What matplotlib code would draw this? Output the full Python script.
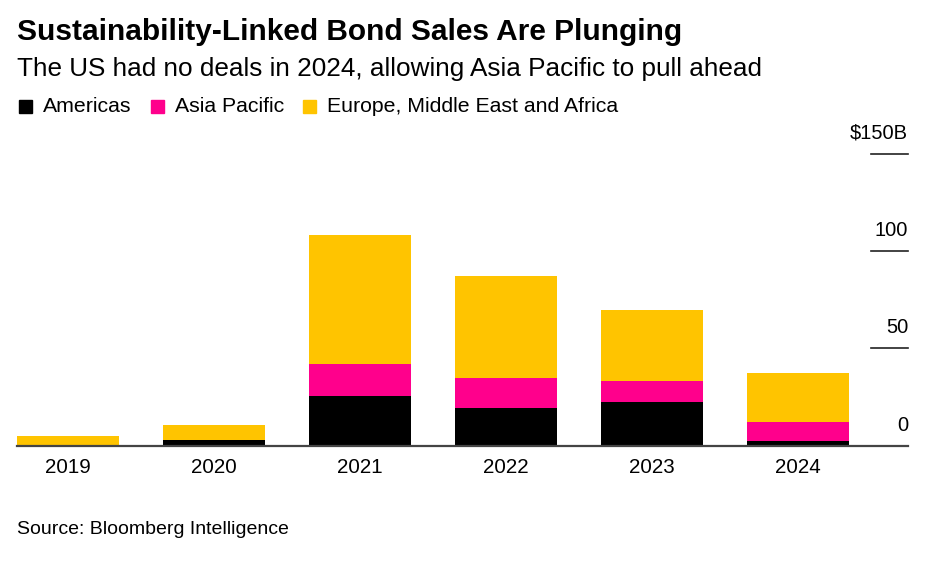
import numpy as np
import matplotlib
matplotlib.use("Agg")
import matplotlib.pyplot as plt
import matplotlib.transforms as mtransforms
from matplotlib.patches import Rectangle

plt.rcParams['font.family'] = ['Liberation Sans', 'DejaVu Sans']

years = ['2019', '2020', '2021', '2022', '2023', '2024']
americas = [0.0, 2.8, 25.6, 19.5, 22.6, 2.4]
asia_pacific = [0.0, 0.0, 16.3, 15.1, 10.7, 9.6]
emea = [5.0, 7.8, 66.2, 52.6, 36.3, 25.6]
series_names = ['Americas', 'Asia Pacific', 'Europe, Middle East and Africa']
colors = ['#000000', '#ff008c', '#ffc400']
yticks = [0, 50, 100, 150]
ytick_labels = ['0', '50', '100', '$150B']

fig = plt.figure(figsize=(9.47, 5.63), dpi=100)
ax = fig.add_axes([17/947, 1 - 445.7/563, (908 - 17)/947, (445.7 - 154)/563])

x = np.arange(len(years))
bottom = np.zeros(len(years))
for vals, col in zip([americas, asia_pacific, emea], colors):
    ax.bar(x, vals, width=0.7, bottom=bottom, color=col, linewidth=0)
    bottom += np.array(vals)

ax.set_xlim(-0.35, 5.753)
ax.set_ylim(0, 150)
for s in ['top', 'right', 'left']:
    ax.spines[s].set_visible(False)
ax.spines['bottom'].set_color('#444444')
ax.spines['bottom'].set_linewidth(1.6)
ax.set_yticks([])
ax.set_xticks(x)
ax.set_xticklabels(years, fontsize=14.8)
ax.tick_params(axis='x', length=0, pad=9)

# short gridline stubs and labels on the right
trans = mtransforms.blended_transform_factory(ax.transAxes, ax.transData)
for v, lab in zip(yticks, ytick_labels):
    if v > 0:
        ax.plot([0.958, 1.0], [v, v], transform=trans, color='#222222',
                linewidth=1.2, clip_on=False)
    ax.annotate(lab, xy=(1.0, v), xycoords=trans, xytext=(0, 8),
                textcoords='offset points', ha='right', va='bottom',
                fontsize=14.5)

fig.text(17/947, 1 - 32/563, 'Sustainability-Linked Bond Sales Are Plunging',
         fontsize=21.5, fontweight='bold', va='center', ha='left')
fig.text(17/947, 1 - 69/563,
         'The US had no deals in 2024, allowing Asia Pacific to pull ahead',
         fontsize=18.8, va='center', ha='left')

# legend row
lx = 19
for name, col in zip(series_names, colors):
    fig.patches.append(Rectangle((lx/947, 1 - 113/563), 13/947, 13/563,
                                 transform=fig.transFigure, color=col))
    t = fig.text((lx + 24)/947, 1 - 107/563, name, fontsize=15.3,
                 va='center', ha='left')
    fig.canvas.draw()
    bb = t.get_window_extent()
    lx = bb.x1 + 19

fig.text(17/947, 1 - 530/563, 'Source: Bloomberg Intelligence',
         fontsize=14, va='center', ha='left')

fig.savefig('out.png', dpi=100)
